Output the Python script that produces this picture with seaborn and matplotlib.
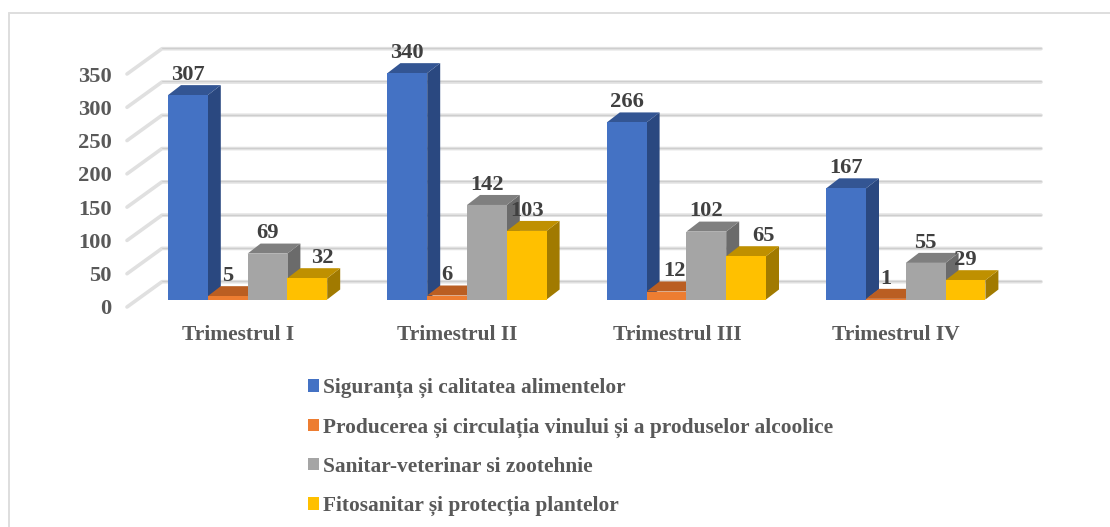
import pandas as pd
import matplotlib
matplotlib.use("Agg")
import matplotlib.pyplot as plt
import seaborn as sns
from matplotlib.patches import Polygon
from matplotlib.transforms import ScaledTranslation

trimestre = ["Trimestrul I", "Trimestrul II", "Trimestrul III", "Trimestrul IV"]
domenii = [
    "Siguranța și calitatea alimentelor",
    "Producerea și circulația vinului și a produselor alcoolice",
    "Sanitar-veterinar si zootehnie",
    "Fitosanitar și protecția plantelor",
]
siguranta = [307, 340, 266, 167]
vin = [5, 6, 12, 1]
sanitar = [69, 142, 102, 55]
fitosanitar = [32, 103, 65, 29]
y_ticks = [0, 50, 100, 150, 200, 250, 300, 350]

culori = ["#4472C4", "#ED7D31", "#A5A5A5", "#FFC000"]
culori_sus = ["#335593", "#BA5E22", "#7F7F7F", "#BF9000"]
culori_lat = ["#2A4880", "#A0501C", "#6B6B6B", "#A17A00"]

W, H, DPI = 1110, 527, 100
PX_Y = 233 / 350      # pixeli pe unitate
PITCH = 219.4         # pixeli intre trimestre
DX, DY = 13 / PITCH, 10 / PX_Y   # adancimea barelor
WALL_X = 35 / PITCH
WALL_BACK, WALL_FRONT = 17.8 / PX_Y, -7.5 / PX_Y

sns.set_theme(style="white")
plt.rcParams["font.family"] = ["Liberation Serif", "DejaVu Serif"]

df = pd.DataFrame({
    "trimestru": trimestre * 4,
    "domeniu": [d for d in domenii for _ in trimestre],
    "valoare": siguranta + vin + sanitar + fitosanitar,
})

fig = plt.figure(figsize=(W / DPI, H / DPI), dpi=DPI)
ax = fig.add_axes([127 / W, 1 - 299.5 / H, (1041 - 127) / W, (299.5 - 48) / H])

sns.barplot(data=df, x="trimestru", y="valoare", hue="domeniu", order=trimestre,
            hue_order=domenii, palette=culori, saturation=1, width=159.2 / PITCH,
            gap=0, errorbar=None, ax=ax, zorder=5, linewidth=0)

x0 = (127 - 247.6) / PITCH
x1 = (1041 - 247.6) / PITCH
ax.set_xlim(x0, x1)
ax.set_ylim(0, (299.5 - 48) / PX_Y)
sns.despine(ax=ax, left=True, bottom=True)
ax.set_xlabel("")
ax.set_ylabel("")

# peretele din spate, cu liniile de grila
xb = x0 + WALL_X
for v in y_ticks:
    xs = [x0, xb, x1]
    ys = [v + WALL_FRONT, v + WALL_BACK, v + WALL_BACK]
    ax.plot(xs, ys, color="#E0E0E0", lw=2.6, clip_on=False, zorder=1,
            solid_capstyle="round")
    ax.plot(xs[1:], [ys[1] + 0.9, ys[1] + 0.9], color="#CBCBCB", lw=0.6,
            clip_on=False, zorder=1)

# fetele laterale si de sus, de la stanga la dreapta, ca sa se acopere corect
bare = []
for i, cont in enumerate(ax.containers):
    for j, p in enumerate(cont.patches):
        bare.append((j, p.get_x(), i, p))
bare.sort(key=lambda b: b[1])
z = 2
for j, left, i, p in bare:
    right = left + p.get_width()
    h = p.get_height()
    lat = [(right, 0), (right, h), (right + DX, h + DY), (right + DX, DY)]
    sus = [(left, h), (right, h), (right + DX, h + DY), (left + DX, h + DY)]
    ax.add_patch(Polygon(lat, closed=True, fc=culori_lat[i], ec="none", zorder=z, clip_on=False))
    ax.add_patch(Polygon(sus, closed=True, fc=culori_sus[i], ec="none", zorder=z + 0.1, clip_on=False))
    z += 0.2 / 4

# etichetele de date; 32, 65 si 12 sunt mutate lateral ca in original
mutari = {(3, 0): 15, (3, 2): 17, (1, 2): 8}
for i, cont in enumerate(ax.containers):
    for j, p in enumerate(cont.patches):
        h = p.get_height()
        ax.annotate(f"{h:.0f}", (p.get_x() + p.get_width() / 2, h + DY),
                    xytext=(mutari.get((i, j), 0) * 0.72, 10.3 * 0.72),
                    textcoords="offset points", ha="center", va="center",
                    fontsize=16.2, fontweight="bold", color="#404040",
                    annotation_clip=False, zorder=20)

ax.set_yticks(y_ticks)
ax.set_xticks(range(len(trimestre)))
ax.set_xticklabels(trimestre)
ax.tick_params(axis="y", length=0, pad=11, labelsize=16.2, labelcolor="#595959")
ax.tick_params(axis="x", length=0, pad=18, labelsize=15.5, labelcolor="#595959")
for t in ax.get_yticklabels():
    t.set_fontweight("bold")
    t.set_transform(t.get_transform() + ScaledTranslation(0, -7.5 / DPI, fig.dpi_scale_trans))
for t in ax.get_xticklabels():
    t.set_fontweight("bold")
    t.set_transform(t.get_transform() + ScaledTranslation(-9.5 / DPI, 0, fig.dpi_scale_trans))

sns.move_legend(ax, "upper left", bbox_to_anchor=(308 / W, 1 - 378 / H),
                bbox_transform=fig.transFigure, frameon=False, title=None,
                labelspacing=0.90, handlelength=0.51, handleheight=0.51,
                handletextpad=0.2, borderpad=0, borderaxespad=0,
                labelcolor="#595959", prop={"weight": "bold", "size": 15.4})

# chenarul graficului (fara margine dreapta si jos)
fig.add_artist(plt.Line2D([8.5 / W, 8.5 / W], [0, 1 - 12.5 / H], color="#DEDEDE", lw=1.4))
fig.add_artist(plt.Line2D([8.5 / W, 1], [1 - 12.5 / H, 1 - 12.5 / H], color="#DEDEDE", lw=1.4))

fig.savefig("out.png", dpi=DPI)
